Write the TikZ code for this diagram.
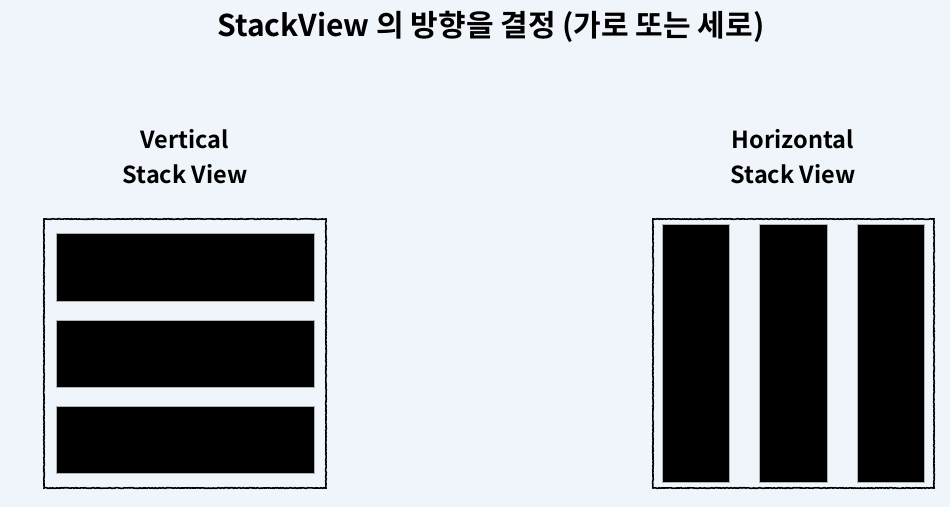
\documentclass[tikz,border=0pt]{standalone}
\usepackage{fontspec}
\setmainfont{Noto Sans CJK KR}[BoldFont={* Bold}]
\usetikzlibrary{decorations.pathmorphing}
\definecolor{bg}{HTML}{F0F5FC}
\tikzset{
  frame/.style={draw=black, line width=1.6pt, decorate, decoration={random steps, segment length=1.2pt, amplitude=0.35pt}},
  bar/.style={fill=black, draw=gray!60, line width=0.5pt},
  label/.style={font=\bfseries\fontsize{23.5}{35}\selectfont, align=center, text=black}
}
\begin{document}
\begin{tikzpicture}[x=1pt,y=-1pt]
\fill[bg] (0,0) rectangle (950,507);
\useasboundingbox (0,0) rectangle (950,507);
\node[font=\bfseries\fontsize{30}{34}\selectfont] (title) at (491,27) {StackView 의 방향을 결정 (가로 또는 세로)};
\node[label] (vlabel) at (185,157) {Vertical\\Stack View};
\node[label] (hlabel) at (793,157) {Horizontal\\Stack View};
% vertical stack
\draw[frame] (44,219) rectangle (326,488);
\draw[bar] (56,233) rectangle (314,301);
\draw[bar] (56,320) rectangle (314,387);
\draw[bar] (56,406) rectangle (314,473);
% horizontal stack
\draw[frame] (653,219) rectangle (934,488);
\draw[bar] (662,224) rectangle (729,482);
\draw[bar] (759,224) rectangle (827,482);
\draw[bar] (857,224) rectangle (924,482);
\end{tikzpicture}
\end{document}
